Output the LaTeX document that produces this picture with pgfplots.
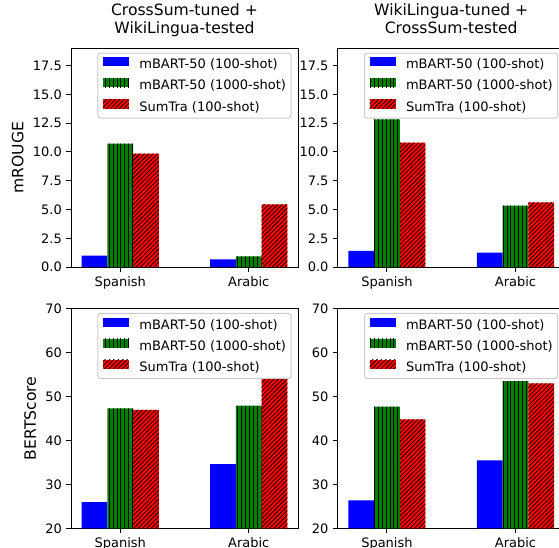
\documentclass[border=0pt]{standalone}
\usepackage{fontspec}
\setmainfont{DejaVu Sans}
\usepackage{pgfplots}
\pgfplotsset{compat=1.18}
\usetikzlibrary{patterns.meta}

\definecolor{mplblue}{RGB}{0,0,255}
\definecolor{mplgreen}{RGB}{0,128,0}
\definecolor{mplred}{RGB}{255,0,0}
\definecolor{legedge}{RGB}{204,204,204}

\newcommand{\ticksize}{\fontsize{13}{15.6}\selectfont}
\newcommand{\labsize}{\fontsize{15.6}{17.5}\selectfont}

\pgfplotsset{
  panel/.style={
    scale only axis, width=227pt,
    xmin=-0.383, xmax=1.383,
    xtick={0,1}, xticklabels={Spanish,Arabic},
    tick align=outside, xtick pos=left, ytick pos=left,
    major tick length=4.5pt,
    every tick/.style={black, line width=1pt},
    axis line style={black, line width=1pt},
    tick label style={font=\ticksize, inner sep=0pt},
    /pgf/number format/assume math mode=true,
    xticklabel style={yshift=-4.5pt},
    yticklabel style={xshift=-4.5pt},
    title style={font=\labsize, align=center, at={(0.5,1)}, anchor=south, inner sep=0pt, yshift=5.6pt},
    every axis y label/.style={at={(ticklabel cs:0.5,9pt)}, rotate=90, anchor=south, inner sep=0pt, font=\labsize},
    legend style={at={(1,1)}, anchor=north east, xshift=-6.5pt, yshift=-4.5pt,
      draw=legedge, line width=1pt, rounded corners=2.5pt, fill=white, fill opacity=0.8, draw opacity=1, text opacity=1,
      font=\ticksize, inner xsep=5pt, inner ysep=4pt, row sep=6.5pt, column sep=10.4pt,
      nodes={inner sep=0pt, text height=10pt, text depth=3pt}},
    legend cell align=left,
  },
  topp/.style={panel, height=219pt, ymin=0, ymax=19, ytick={0,2.5,...,17.5},
    yticklabel style={/pgf/number format/.cd, fixed, fixed zerofill, precision=1}},
  botp/.style={panel, height=219.8pt, ymin=20, ymax=70, ytick={20,30,...,70}},
  myleg/.style={legend image code/.code={\path[##1, draw=none, sharp corners, fill opacity=1] (0pt,-4.55pt+0.36em) rectangle (26pt,4.55pt+0.36em);}},
  b1/.style={ybar, bar width=0.2, bar shift=-0.2, fill=mplblue, draw=none, myleg},
  b2/.style={ybar, bar width=0.2, bar shift=0, fill=mplgreen, draw=none,
    postaction={pattern={Lines[angle=90,distance=3.9pt,line width=1pt]}, pattern color=black}, myleg},
  b3/.style={ybar, bar width=0.2, bar shift=0.2, fill=mplred, draw=none,
    postaction={pattern={Lines[angle=45,distance=3.1pt,line width=0.75pt]}, pattern color=black}, myleg},
}

\begin{document}
\begin{tikzpicture}
% top-left
\begin{axis}[topp, at={(71pt,280.8pt)}, anchor=south west,
  title={CrossSum-tuned +\\WikiLingua-tested\vphantom{g}}, ylabel={mROUGE}]
\addplot[b1] coordinates {(0,1.01) (1,0.67)};
\addplot[b2] coordinates {(0,10.72) (1,0.93)};
\addplot[b3] coordinates {(0,9.86) (1,5.46)};
\legend{mBART-50 (100-shot),mBART-50 (1000-shot),SumTra (100-shot)}
\end{axis}
% top-right
\begin{axis}[topp, at={(337.7pt,280.8pt)}, anchor=south west,
  title={WikiLingua-tuned +\\CrossSum-tested\vphantom{g}}]
\addplot[b1] coordinates {(0,1.41) (1,1.27)};
\addplot[b2] coordinates {(0,12.82) (1,5.34)};
\addplot[b3] coordinates {(0,10.80) (1,5.63)};
\legend{mBART-50 (100-shot),mBART-50 (1000-shot),SumTra (100-shot)}
\end{axis}
% bottom-left
\begin{axis}[botp, at={(71pt,19.7pt)}, anchor=south west, ylabel={BERTScore}]
\addplot[b1] coordinates {(0,25.98) (1,34.6)};
\addplot[b2] coordinates {(0,47.27) (1,47.9)};
\addplot[b3] coordinates {(0,46.95) (1,54.1)};
\legend{mBART-50 (100-shot),mBART-50 (1000-shot),SumTra (100-shot)}
\end{axis}
% bottom-right
\begin{axis}[botp, at={(337.7pt,19.7pt)}, anchor=south west]
\addplot[b1] coordinates {(0,26.36) (1,35.45)};
\addplot[b2] coordinates {(0,47.7) (1,53.5)};
\addplot[b3] coordinates {(0,44.8) (1,52.95)};
\legend{mBART-50 (100-shot),mBART-50 (1000-shot),SumTra (100-shot)}
\end{axis}
\pgfresetboundingbox
\path[use as bounding box] (0,0) rectangle (559pt,548pt);
\end{tikzpicture}
\end{document}
